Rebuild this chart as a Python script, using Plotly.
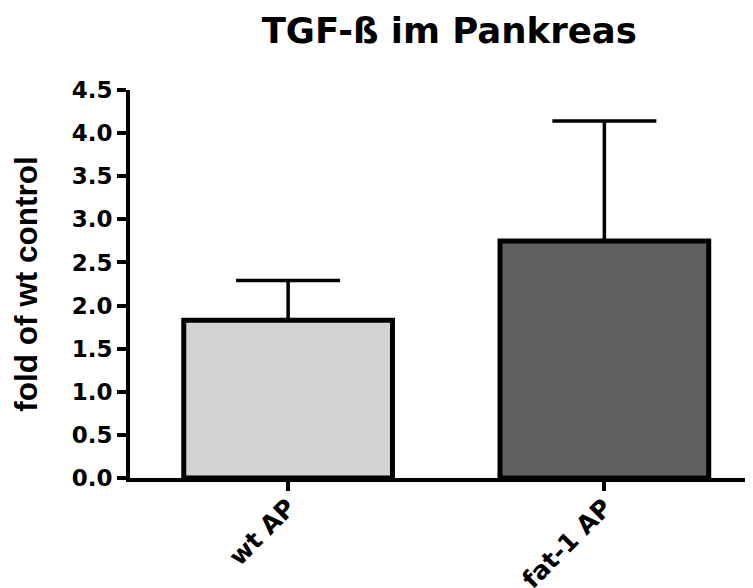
import plotly.graph_objects as go

categories = ["wt AP", "fat-1 AP"]
means = [1.83, 2.75]
err_plus = [0.46, 1.39]
colors = ["#d3d3d3", "#606060"]
ytick_vals = [0.0, 0.5, 1.0, 1.5, 2.0, 2.5, 3.0, 3.5, 4.0, 4.5]
ytick_text = ["0.0", "0.5", "1.0", "1.5", "2.0", "2.5", "3.0", "3.5", "4.0", "4.5"]

wide_font = "DejaVu Sans, Verdana, sans-serif"
arial_font = "Liberation Sans, Arial, sans-serif"

fig = go.Figure()
fig.add_trace(go.Bar(
    x=categories,
    y=means,
    width=0.66,
    marker=dict(color=colors, line=dict(color="black", width=5)),
    error_y=dict(type="data", array=err_plus, arrayminus=[0, 0], symmetric=False,
                 color="black", thickness=3.5, width=52),
))

fig.update_layout(
    width=753, height=588,
    margin=dict(l=122, r=8, t=82, b=118),
    paper_bgcolor="white", plot_bgcolor="white",
    showlegend=False,
    title=dict(text="<b>TGF-ß im Pankreas</b>", xref="container", x=0.586, xanchor="center",
               yref="container", y=0.962, yanchor="middle",
               font=dict(family=wide_font, size=35.5, color="black")),
    font=dict(family=wide_font, color="black"),
)
fig.update_xaxes(
    range=[-0.5, 1.47],
    automargin=False,
    showline=True, linecolor="black", linewidth=4,
    ticks="outside", ticklen=9, tickwidth=4, tickcolor="black",
    tickangle=-45,
    ticklabelstandoff=-8,
    tickfont=dict(family=wide_font, size=25, color="black", weight="bold"),
    showgrid=False, zeroline=False,
)
fig.update_yaxes(
    range=[0, 4.5],
    automargin=False,
    tickvals=ytick_vals, ticktext=ytick_text,
    showline=True, linecolor="black", linewidth=4,
    ticks="outside", ticklen=9, tickwidth=4, tickcolor="black",
    tickfont=dict(family=wide_font, size=23, color="black", weight="bold"),
    title=dict(text="<b>fold of wt control</b>", font=dict(family=arial_font, size=31.5, color="black"), standoff=36),
    showgrid=False, zeroline=False,
)

fig.write_html("out.html")
